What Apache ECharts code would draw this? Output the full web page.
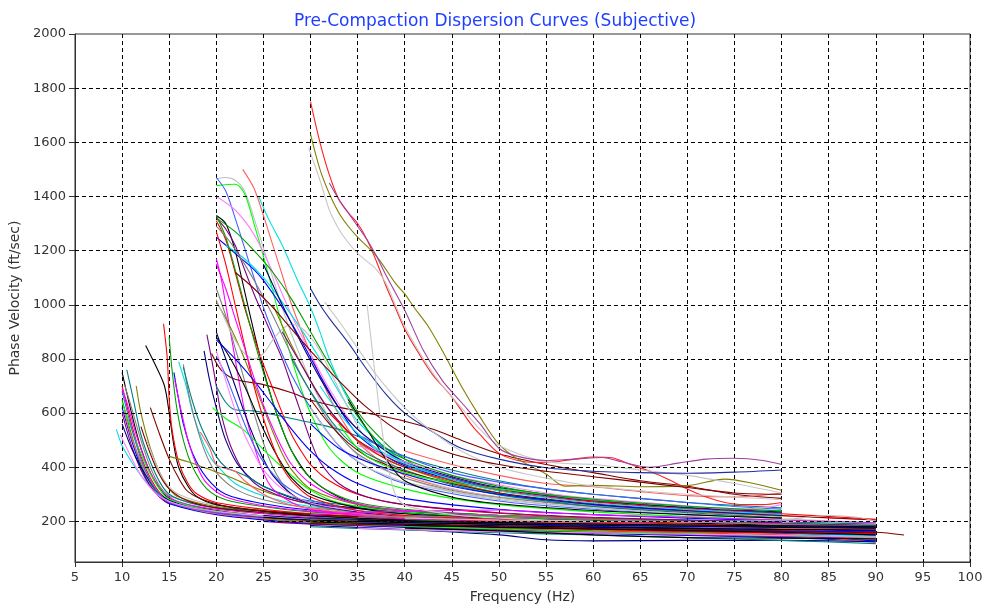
<!DOCTYPE html>
<html>
<head>
<meta charset="utf-8">
<title>Pre-Compaction Dispersion Curves</title>
<script src="https://cdn.jsdelivr.net/npm/echarts@6/dist/echarts.min.js"></script>
<style>
  html, body { margin: 0; padding: 0; background: #fff; }
  #chart { width: 987px; height: 612px; }
</style>
</head>
<body>
<div id="chart"></div>
<script>
// tick values
const yTicks = [200, 400, 600, 800, 1000, 1200, 1400, 1600, 1800, 2000];
const yGrid = [200, 400, 600, 800, 1000, 1200, 1400, 1600, 1800];

// curves picked near 10 Hz, [freq, velocity]
const from10 = [
  [[10,750],[11,600],[12,470],[13,380],[14,320],[15,285],[17,260],[20,240],[25,220],[30,208],[40,195],[50,185],[60,178],[70,170],[80,165],[90,160]],
  [[10,700],[11,560],[12,440],[13,360],[14,305],[15,275],[17,250],[20,232],[25,214],[30,200],[40,188],[50,175],[60,165],[70,158],[80,150],[90,140]],
  [[10,650],[11,520],[12,410],[13,340],[14,295],[15,268],[18,240],[20,228],[25,210],[30,196],[40,182],[50,168],[60,160],[70,150],[80,142],[90,130]],
  [[10,620],[11,500],[12,400],[13,330],[14,290],[15,265],[20,225],[30,192],[40,178],[50,165],[60,155],[70,148],[80,140],[90,128]],
  [[9.4,540],[10,480],[11,420],[12,370],[13,330],[14,295],[15,275],[20,235],[30,205],[40,192],[50,182],[60,172],[70,162],[80,155],[90,145]],
  [[10,690],[10.5,640],[11.5,520],[12.5,420],[13.5,350],[15,290],[17,262],[20,245],[25,228],[30,215],[40,200],[50,190],[60,182],[70,175],[80,170],[90,175]],
  [[10.3,700],[11,620],[12,500],[13,400],[14,330],[15,295],[20,250],[30,220],[40,205],[50,195],[60,190],[70,185],[80,180],[90,178]],
  [[11.5,700],[12,600],[13,470],[14,380],[15,320],[16,290],[20,255],[30,225],[40,210],[50,198],[60,188],[70,180],[80,175],[90,170]],
  [[10,600],[11,480],[12,390],[13,330],[14,290],[15,268],[20,230],[30,200],[40,185],[50,172],[60,160],[70,152],[80,146],[90,138]],
  [[10,560],[11,470],[12,400],[13,345],[14,300],[16,265],[20,235],[30,202],[45,185],[60,170],[75,160],[90,150]],
  [[10.5,760],[11.2,650],[12,520],[13,420],[14,345],[15,300],[17,270],[20,250],[30,228],[40,215],[50,205],[60,195],[70,188],[80,182],[90,185]],
  [[12,550],[13,450],[14,370],[15,320],[17,275],[20,250],[25,232],[30,220],[40,205],[55,195],[70,188],[90,180]],
  [[12.6,500],[13.5,420],[14.5,350],[16,300],[20,260],[30,230],[40,215],[50,205],[60,200],[70,190],[80,185],[90,175]],
  [[10,640],[11,540],[12,450],[13,375],[14,318],[15,282],[20,238],[30,210],[40,198],[50,188],[60,180],[70,172],[80,162],[90,152]],
  [[10.2,610],[11,510],[12,420],[13,350],[14,300],[15,272],[20,228],[30,198],[40,184],[50,176],[60,168],[70,160],[80,152],[90,122]],
  [[10,680],[11,545],[12,430],[13,350],[14,300],[15,270],[20,232],[30,205],[40,190],[50,180],[60,172],[70,165],[80,158],[90,150]],
  [[9.8,520],[10.5,470],[11.5,400],[12.5,345],[14,292],[16,262],[20,236],[30,208],[40,196],[50,186],[60,176],[70,168],[80,160],[90,156]]
];

// curves picked from 12 to 19 Hz
const from12 = [
  [[12.5,850],[13.5,780],[14.5,700],[15,600],[15.5,480],[16,400],[17,330],[18,290],[20,262],[25,238],[30,222],[40,205],[50,196],[60,188],[70,180],[80,172],[90,165]],
  [[14.4,930],[14.8,800],[15,650],[15.3,540],[16,420],[17,340],[18,300],[20,270],[25,245],[30,228],[40,212],[50,200],[60,192],[70,185],[80,178],[90,170]],
  [[15,880],[15.3,760],[15.8,620],[16.5,500],[17.5,400],[19,320],[21,280],[25,255],[30,235],[40,218],[50,205],[60,195],[70,188],[80,180],[90,172]],
  [[15.5,750],[16,650],[16.5,560],[17.5,450],[19,360],[21,300],[25,265],[30,242],[40,222],[50,210],[60,200],[70,192],[80,185],[90,178]],
  [[16,790],[16.8,700],[17.5,600],[18.5,500],[19.5,430],[20.5,390],[22,340],[25,295],[30,255],[40,230],[50,215],[60,205],[70,198],[80,192],[90,185]],
  [[15.6,720],[16.2,620],[17,500],[18,400],[19,340],[21,290],[25,258],[30,238],[40,218],[50,207],[60,198],[70,190],[80,183],[90,175]],
  [[16.5,780],[17.2,650],[18,540],[19,440],[20,380],[22,320],[25,280],[30,250],[40,228],[50,215],[60,205],[70,197],[80,190],[90,182]],
  [[15,440],[17,420],[19,395],[21,370],[23,340],[26,300],[30,265],[40,235],[50,218],[60,208],[70,200],[80,192],[90,185]],
  [[19,890],[19.5,800],[20,700],[20.5,600],[21.5,480],[23,380],[25,320],[30,265],[40,235],[50,220],[60,208],[70,200],[80,192],[90,185]],
  [[18.7,830],[19.3,720],[20,620],[21,500],[22.5,400],[25,330],[30,270],[40,238],[50,222],[60,210],[70,202],[80,195]],
  [[16.5,770],[17.5,640],[18.5,540],[20,440],[21,400],[22,385],[23,370],[25,330],[28,290],[30,275],[40,240],[50,222],[60,212],[70,205],[80,198],[90,190]],
  [[13,620],[14,520],[15,430],[16,360],[17,310],[19,275],[22,250],[30,226],[40,210],[50,200],[60,192],[70,186],[80,178],[90,168]]
];

// curves picked at 20 to 25 Hz
const from20 = [
  [[20,1465],[21,1470],[22,1460],[23,1420],[24,1320],[25,1210],[26,1100],[27,990],[28,890],[30,720],[32,580],[34,480],[36,420],[40,360],[45,310],[50,280],[60,250],[70,230],[80,215]],
  [[20,1440],[22,1445],[23,1410],[24,1300],[25,1180],[26,1050],[27,920],[28,800],[29,690],[30,600],[32,470],[35,380],[40,320],[45,285],[50,262],[60,235],[70,218],[80,205],[90,195]],
  [[22.8,1500],[24,1430],[25,1330],[26,1220],[27,1110],[28,1000],[30,820],[32,660],[34,540],[36,460],[40,370],[45,320],[50,290],[60,255],[70,235],[80,220],[90,205]],
  [[20,1470],[21,1420],[22,1320],[23,1210],[24,1100],[25,990],[26,900],[28,740],[30,620],[33,480],[36,400],[40,340],[50,275],[60,245],[70,225],[80,212]],
  [[20,1400],[22,1350],[24,1260],[26,1120],[28,960],[30,820],[32,690],[35,540],[40,420],[45,350],[50,305],[60,262],[70,238],[80,222]],
  [[20,1330],[21,1300],[22,1200],[23,1050],[24,900],[25,760],[26,640],[27,540],[28,460],[30,360],[33,290],[36,255],[40,235],[50,212],[60,200],[70,192],[80,185],[90,178]],
  [[20,1310],[21,1240],[22,1120],[23,990],[24,880],[25,780],[26,690],[27,600],[28,520],[29,460],[30,410],[32,350],[35,300],[40,262],[50,230],[60,212],[70,200],[80,192]],
  [[20,1320],[22,1270],[24,1200],[26,1120],[28,1020],[30,900],[32,780],[34,660],[36,560],[40,430],[45,350],[50,300],[60,260],[70,238],[80,225]],
  [[20,1250],[22,1190],[24,1130],[25,1090],[27,990],[29,870],[31,740],[33,620],[35,520],[38,440],[40,405],[45,355],[50,320],[60,275],[70,250],[80,232]],
  [[21,1220],[23,1170],[25,1100],[27,1010],[29,910],[31,800],[33,680],[35,570],[38,470],[40,420],[45,360],[50,320],[60,275],[70,250],[80,235]],
  [[20,1170],[20.5,1100],[21,1000],[21.5,900],[22,800],[22.5,700],[23,610],[24,480],[25,380],[26,320],[28,270],[30,245],[35,222],[40,210],[50,198],[60,190],[70,183],[80,177],[90,170]],
  [[20,1060],[21,960],[22,840],[23,720],[24,600],[25,490],[26,400],[27,340],[28,300],[30,262],[35,232],[40,218],[50,205],[60,196],[70,188],[80,180],[90,172]],
  [[20,1010],[21,950],[22,880],[23,800],[24,710],[25,620],[26,530],[27,450],[28,390],[30,320],[35,262],[40,240],[50,222],[60,210],[70,200],[80,192]],
  [[20,1320],[21,1280],[22,1220],[23,1130],[24,1040],[25,960],[26,880],[27,800],[28,700],[29,600],[30,500],[31,420],[33,340],[36,290],[40,262],[50,232],[60,215],[70,205],[80,196]],
  [[20,900],[21,800],[22,700],[23,600],[24,510],[25,430],[26,370],[28,300],[30,265],[35,235],[40,220],[50,208],[60,198],[70,190],[80,183],[90,175]],
  [[20,700],[21,640],[22,612],[24,608],[26,595],[28,580],[30,565],[33,540],[36,500],[40,440],[45,390],[50,350],[55,320],[60,300],[70,270],[80,250]],
  [[19.5,820],[20.5,760],[22,725],[25,705],[28,675],[30,648],[33,622],[36,600],[40,570],[43,540],[46,500],[50,450],[55,410],[60,380],[65,350],[70,330],[75,300],[80,285]],
  [[20,1020],[21,940],[22,870],[23,820],[24,800],[25,820],[26,870],[27,910],[28,928],[29,915],[30,880],[31,830],[32,760],[34,620],[36,500],[40,380],[45,320],[50,290],[60,260],[70,240],[80,228]],
  [[19.6,620],[21,580],[23,535],[25,465],[27,400],[29,340],[30,315],[32,280],[35,255],[40,235],[50,215],[60,205],[70,196],[80,188],[90,180]],
  [[18.3,530],[19.3,470],[20,410],[21,395],[22,385],[23,350],[25,300],[27,270],[30,248],[35,228],[40,215],[50,202],[60,192],[70,185],[80,178],[90,170]],
  [[20,810],[21,740],[22,650],[23,560],[24,480],[25,420],[27,340],[30,280],[35,240],[40,222],[50,208],[60,198],[70,190],[80,183]],
  [[20,830],[21,720],[22,610],[23,520],[24,450],[25,390],[27,320],[30,268],[35,238],[40,222],[50,208],[60,198],[70,190],[80,182],[90,175]],
  [[20,880],[21,830],[22,770],[23,700],[24,620],[25,540],[26,470],[27,410],[28,360],[30,300],[35,250],[40,228],[50,212],[60,202],[70,194],[80,186],[90,178]],
  [[20,1270],[21,1150],[22,1000],[23,850],[24,700],[25,580],[26,480],[27,400],[28,350],[30,290],[35,240],[40,222],[50,208],[60,198],[70,190],[80,182]],
  [[20,1330],[21,1250],[22,1130],[23,1000],[24,870],[25,750],[26,640],[27,540],[28,460],[29,400],[30,360],[32,310],[35,270],[40,245],[50,222],[60,208],[70,198],[80,190],[90,182]],
  [[20,870],[22,800],[24,720],[26,630],[28,540],[30,460],[32,400],[35,340],[40,285],[50,245],[60,225],[70,212],[80,202]],
  [[24.5,1400],[25.5,1320],[27,1220],[28.5,1100],[30,990],[31,900],[32,800],[34,650],[36,540],[38,460],[40,410],[45,340],[50,300],[60,262],[70,240],[80,225]],
  [[20,1150],[21,1060],[22,950],[23,840],[24,730],[25,630],[26,545],[27,470],[28,410],[30,340],[33,285],[36,258],[40,240],[50,220],[60,208],[70,198],[80,190],[90,180]],
  [[20,1290],[21.5,1230],[23,1150],[24.5,1060],[26,960],[27.5,850],[29,740],[31,620],[33,520],[35,450],[38,390],[40,360],[45,315],[50,288],[60,255],[70,236],[80,222]]
];

// curves picked at 30 Hz and above
const from30 = [
  [[30,1750],[31,1600],[32,1480],[33,1390],[34,1340],[35,1300],[36,1240],[37,1160],[38,1070],[39,990],[40,910],[41.5,820],[43,740],[45,660],[47,560],[48,520],[50,452],[52,425],[54,418],[56,420],[58,430],[60,438],[62,435],[64,410],[66,385],[68,355],[70,320],[72,290],[74,270],[76,262],[78,262],[80,270]],
  [[30,1630],[31,1500],[32,1410],[33,1340],[34,1290],[35,1250],[37,1180],[39,1080],[40,1040],[41,990],[42.5,920],[44,830],[46,700],[48,585],[50,485],[52,430],[55,375],[57,330],[60,333],[65,328],[70,332],[74,356],[77,340],[80,315]],
  [[29.8,1580],[31,1460],[32,1350],[33,1280],[34,1230],[35,1190],[36,1160],[37,1130],[38,1080],[39,1000],[40,920],[42,800],[44,700],[46,620],[48,540],[50,480],[55,420],[60,410],[65,390],[70,370],[75,340],[80,305]],
  [[32,1450],[33,1390],[34,1340],[35,1290],[36,1240],[37,1180],[38,1110],[40,980],[42,830],[44,720],[46,640],[48,560],[50,470],[52,440],[55,425],[58,430],[61,436],[63,420],[66,400],[69,415],[72,430],[75,433],[78,425],[80,410]],
  [[30,1060],[31,1000],[32,950],[34,860],[36,760],[38,670],[40,600],[43,530],[46,470],[50,430],[55,398],[60,385],[65,380],[70,378],[75,382],[80,390]],
  [[31.5,1010],[33,940],[35,840],[37,740],[40,620],[43,530],[46,460],[50,400],[55,360],[60,330],[70,300],[80,280]],
  [[22,1120],[24,1060],[26,990],[28,910],[30,830],[33,720],[36,620],[40,520],[45,450],[50,410],[55,385],[60,365],[65,345],[70,325],[75,305],[80,300]],
  [[36,1000],[36.5,850],[37,700],[37.5,560],[38,440],[38.5,360],[39,300],[40,260],[45,225],[50,212],[60,200]]
];
const from30Colors = ['#ff2020', '#808000', '#c8c8c8', '#a040a0', '#2030a0', '#c8c8c8', '#800000', '#c8c8c8'];

// middle band, ending near 80 Hz
const midBand = [
  [[26,1000],[28,850],[30,720],[32,610],[34,530],[36,470],[40,400],[45,345],[50,305],[55,280],[60,262],[70,238],[80,220]],
  [[27,900],[29,780],[31,660],[33,570],[35,500],[38,440],[40,410],[45,360],[50,320],[55,295],[60,275],[70,250],[80,230]],
  [[25,1150],[27,1000],[29,860],[31,730],[33,620],[35,540],[38,460],[40,420],[45,365],[50,325],[60,280],[70,252],[80,235]],
  [[28,800],[30,680],[32,580],[34,500],[36,450],[40,390],[45,335],[50,298],[55,275],[60,255],[70,232],[80,212]],
  [[30,650],[32,560],[34,490],[36,440],[38,410],[40,385],[45,340],[50,305],[60,265],[70,240],[80,222],[90,205]],
  [[30,620],[32,520],[34,450],[36,400],[38,370],[40,345],[45,310],[50,285],[55,265],[60,250],[70,228],[80,210],[90,195]],
  [[33,560],[35,470],[37,420],[40,380],[43,355],[46,340],[50,320],[55,300],[60,280],[70,255],[80,240]],
  [[40,460],[45,410],[50,370],[55,340],[60,328],[65,310],[70,295],[75,290],[80,305]],
  [[35,520],[40,440],[45,380],[50,345],[55,320],[60,300],[65,285],[70,270],[75,255],[80,245]],
  [[35,480],[40,420],[45,370],[50,335],[55,305],[60,285],[70,258],[75,245],[78,250],[80,262]],
  [[34,650],[36,540],[38,430],[40,350],[45,290],[50,265],[60,240],[70,225],[80,212]],
  [[32,600],[35,500],[38,430],[40,400],[45,350],[50,315],[55,290],[60,272],[70,246],[80,228],[90,208]],
  [[34,640],[36,540],[38,470],[40,430],[45,370],[50,330],[55,300],[60,282],[70,256],[80,238]],
  [[30,560],[33,470],[36,420],[40,375],[45,330],[50,300],[55,280],[60,262],[70,240],[80,224]],
  [[31,700],[34,560],[37,470],[40,415],[45,355],[50,312],[55,288],[60,268],[70,244],[80,226]]
];

// lower band out to 90 Hz
const lowBand = [
  [[30,225],[35,232],[40,238],[45,240],[50,242],[55,232],[60,225],[70,215],[80,205],[90,195]],
  [[35,215],[40,218],[45,220],[48,225],[52,218],[60,208],[70,198],[80,188],[90,180]],
  [[25,210],[30,200],[40,190],[50,182],[60,175],[70,170],[80,165],[90,160]],
  [[25,200],[30,190],[40,180],[50,170],[60,160],[70,152],[80,145],[90,135]],
  [[30,185],[40,170],[50,150],[55,132],[60,128],[70,130],[80,130],[90,125]],
  [[30,180],[40,168],[50,158],[60,150],[70,140],[80,130],[90,118]],
  [[40,200],[50,190],[60,180],[70,172],[80,165],[90,160],[93,150]],
  [[40,212],[50,205],[60,200],[70,198],[80,205],[85,222],[88,215],[90,200]],
  [[30,195],[40,182],[50,172],[60,162],[70,155],[80,148],[90,140]],
  [[30,205],[40,195],[50,188],[60,182],[70,178],[80,175],[90,172]],
  [[30,215],[40,200],[50,192],[60,185],[70,178],[80,168],[90,150]],
  [[35,175],[45,165],[55,160],[65,155],[75,150],[85,145],[90,142]],
  [[40,175],[50,165],[60,150],[70,140],[80,138],[90,135]],
  [[40,190],[50,180],[60,170],[70,162],[80,158],[90,155]],
  [[40,205],[50,195],[60,188],[70,182],[80,180],[90,178]],
  [[35,200],[45,192],[55,185],[65,178],[75,172],[85,168],[90,165]]
];

// darker tails through the dense lower band
const darkTails = [
  [[25,215],[30,205],[40,196],[50,190],[60,186],[70,182],[80,178],[90,175]],
  [[25,222],[30,212],[40,202],[50,194],[60,188],[70,183],[80,180],[90,176]],
  [[30,198],[40,190],[50,184],[60,178],[70,174],[80,170],[90,168]],
  [[30,210],[40,200],[50,195],[60,190],[70,186],[80,184],[90,182]],
  [[35,190],[45,182],[55,176],[65,170],[75,166],[85,163],[90,160]],
  [[35,205],[45,198],[55,193],[65,188],[75,185],[85,182],[90,180]],
  [[30,192],[40,186],[50,180],[60,174],[70,168],[80,163],[90,158]],
  [[40,185],[50,178],[60,172],[70,166],[80,160],[90,150]]
];
const darkColors = ['#000000', '#000080', '#000000', '#404040', '#0000ff', '#000000', '#800000', '#000000'];

const palette = ['#000000', '#ff0000', '#00a000', '#0000ff', '#00e0e0', '#ff00ff', '#808080', '#808000',
  '#800080', '#000080', '#008080', '#800000', '#c0c0c0', '#00ff00', '#ff6060', '#4060ff', '#ff80ff'];

const chart = echarts.init(document.getElementById('chart'));

const families = [
  [from10, null], [from12, null], [from20, null], [midBand, null], [lowBand, null],
  [darkTails, darkColors], [from30, from30Colors]
];

const curveSeries = [];
let n = 0;
families.forEach(([curves, colors]) => {
  curves.forEach((c, i) => {
    curveSeries.push({
      type: 'line',
      data: c,
      symbol: 'none',
      smooth: 0.3,
      silent: true,
      z: 3,
      lineStyle: { width: 1.1, color: colors ? colors[i] : palette[n % palette.length] }
    });
    n++;
  });
});

// horizontal dashed grid (y axis starts at 50, so not from splitLine)
curveSeries.push({
  type: 'line',
  data: [],
  symbol: 'none',
  silent: true,
  z: 2,
  markLine: {
    silent: true,
    symbol: 'none',
    label: { show: false },
    animation: false,
    lineStyle: { color: '#000', type: [4, 3], width: 1 },
    data: yGrid.map(v => ({ yAxis: v }))
  }
});

const font = 'DejaVu Sans, Verdana, sans-serif';

chart.setOption({
  animation: false,
  backgroundColor: '#fff',
  title: {
    text: 'Pre-Compaction Dispersion Curves (Subjective)',
    left: 490,
    textAlign: 'center',
    top: 8,
    textStyle: { color: '#1f3fff', fontSize: 17, fontWeight: 'normal', fontFamily: font }
  },
  grid: {
    left: 74, right: 17, top: 34, bottom: 50,
    show: true, borderColor: '#333', borderWidth: 1, backgroundColor: 'transparent'
  },
  xAxis: {
    type: 'value',
    min: 5, max: 100, interval: 5,
    name: 'Frequency (Hz)',
    nameLocation: 'middle',
    nameGap: 28,
    nameTextStyle: { color: '#333', fontSize: 14, fontFamily: font },
    axisLine: { lineStyle: { color: '#333' } },
    axisTick: { show: true, length: 5, lineStyle: { color: '#333' } },
    axisLabel: { color: '#333', fontSize: 13, margin: 9, fontFamily: font },
    splitLine: { show: true, lineStyle: { color: '#000', type: [4, 3], width: 1 } }
  },
  yAxis: {
    type: 'value',
    min: 50, max: 2000,
    name: 'Phase Velocity (ft/sec)',
    nameLocation: 'middle',
    nameGap: 48,
    nameTextStyle: { color: '#333', fontSize: 14, fontFamily: font },
    axisLine: { show: true, lineStyle: { color: '#333' } },
    axisTick: { show: true, length: 6, customValues: yTicks, lineStyle: { color: '#333' } },
    axisLabel: {
      color: '#333', fontSize: 13, margin: 9, customValues: yTicks, fontFamily: font,
      formatter: v => String(v)
    },
    splitLine: { show: false }
  },
  series: curveSeries
});
</script>
</body>
</html>
